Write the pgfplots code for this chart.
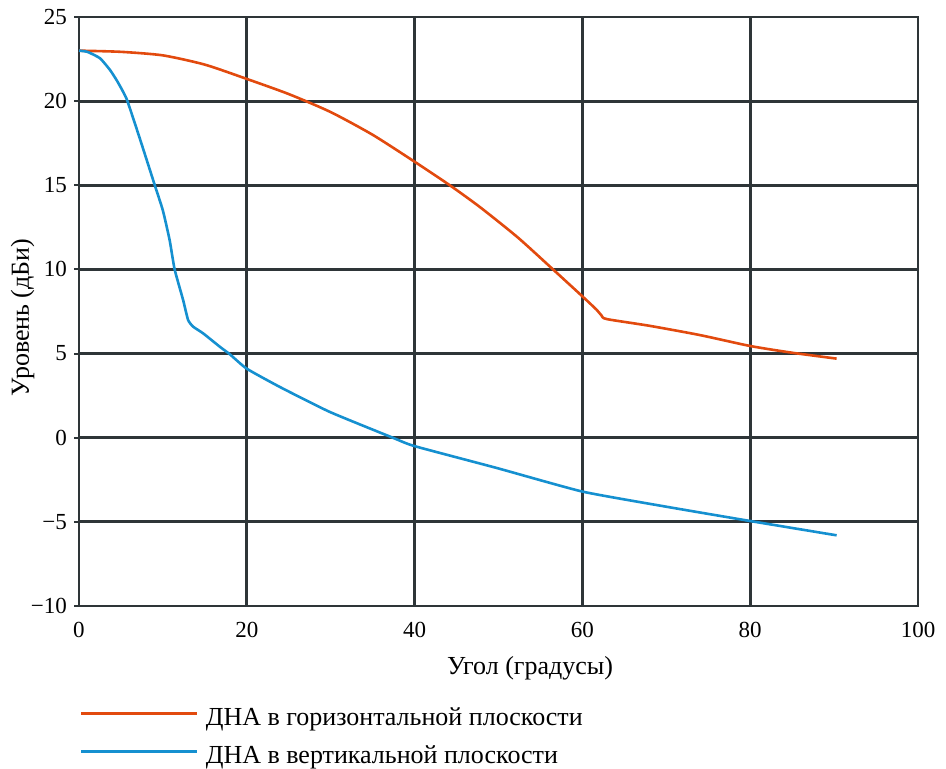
\documentclass[border=0pt]{standalone}
\usepackage{fontspec}
\setmainfont{Liberation Serif}
\usepackage{pgfplots}
\pgfplotsset{compat=1.18}
\definecolor{gridc}{HTML}{2E3538}
\definecolor{orc}{HTML}{E24A0E}
\definecolor{blc}{HTML}{1590D0}
\begin{document}
\fontsize{26}{31}\selectfont
\begin{tikzpicture}
\begin{axis}[
  at={(0pt,0pt)}, anchor=south west,
  scale only axis,
  width=839pt, height=589pt,
  xmin=0, xmax=100, ymin=-10, ymax=25,
  xtick={0,20,40,60,80,100},
  ytick={-10,-5,0,5,10,15,20,25},
  yticklabels={−10,−5,0,5,10,15,20,25},
  xticklabels={0,20,40,60,80,100},
  ytick pos=left,
  tick align=outside,
  major tick length=5pt,
  xtick style={draw=none},
  ytick style={line width=2pt, gridc},
  grid=major,
  grid style={line width=2.8pt, gridc},
  axis line style={line width=2.8pt, gridc},
  tick label style={font=\fontsize{23}{28}\selectfont, inner sep=0pt},
  yticklabel style={anchor=east, xshift=-7pt},
  xticklabel style={anchor=north, yshift=-11.5pt},
  xlabel={Угол (градусы)},
  ylabel={Уровень (дБи)},
  xlabel style={font=\fontsize{26}{31}\selectfont, at={(axis description cs:0.5376,-0.1171)}, anchor=base, inner sep=0pt},
  ylabel style={font=\fontsize{26}{31}\selectfont, at={(axis description cs:-0.0596,0.49)}, anchor=base, inner sep=0pt},
  legend style={at={(axis description cs:0,0)}, anchor=north west, yshift=-99.5pt, xshift=1pt, draw=none, fill=none, font=\fontsize{26}{31}\selectfont, row sep=12pt, column sep=6pt, inner sep=0pt, cells={anchor=base west, inner sep=0pt}},
  legend image code/.code={\draw[#1] (0pt,12pt) -- (115pt,12pt);},
]
\addplot[orc, line width=2.6pt, smooth, tension=0.4] coordinates {
(0,23.0) (5,22.93) (10,22.72) (15,22.17) (20,21.32) (25,20.42) (30,19.35) (35,18.0) (40,16.4) (44.2,15.0) (47.8,13.7) (52.3,11.9) (56.5,10.0) (60,8.4) (61.7,7.6) (62.3,7.25) (62.9,7.05) (68,6.65) (74,6.1) (80,5.45) (85,5.05) (90.3,4.7)
};
\addlegendentry{ДНА в горизонтальной плоскости}
\addplot[blc, line width=2.6pt, smooth, tension=0.3] coordinates {
(0,23.0) (1,22.93) (2.5,22.55) (3.7,21.85) (4.6,21.15) (5.7,20.1) (7.3,17.7) (9.1,14.9) (10.0,13.5) (10.8,11.75) (11.4,10.0) (12.4,8.2) (13.0,7.0) (13.6,6.6) (14.8,6.2) (16.8,5.4) (18,4.95) (20,4.1) (24,3.0) (29.9,1.53) (37.4,0) (40,-0.5) (49.8,-1.8) (60,-3.2) (70,-4.1) (80,-4.95) (90.3,-5.8)
};
\addlegendentry{ДНА в вертикальной плоскости}
\end{axis}
\pgfresetboundingbox
\path[use as bounding box] (-79pt,-163pt) rectangle (867pt,606pt);
\end{tikzpicture}
\end{document}
